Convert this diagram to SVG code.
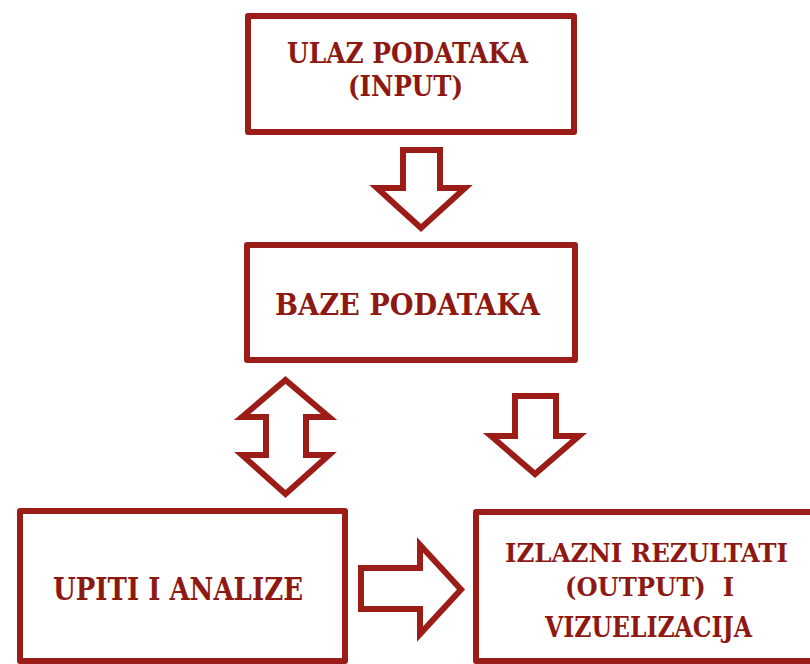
<svg xmlns="http://www.w3.org/2000/svg" width="810" height="664" viewBox="0 0 810 664">
<style>
.box{fill:#ffffff;stroke:#9c1c17;stroke-width:6;stroke-linejoin:round}
.arr{fill:#ffffff;stroke:#9c1c17;stroke-width:6;stroke-linejoin:miter}
.lbl{font-family:"DejaVu Serif Condensed","DejaVu Serif",serif;font-weight:bold;fill:#8e1912;text-anchor:middle;white-space:pre}
</style>
<rect width="810" height="664" fill="#ffffff"/>
<g id="connectors">
<path class="arr" d="M403,150 H440 V188 H465 L421,228 L377,188 H403 Z"/>
<path class="arr" d="M285.5,380 L329,417 H306 V455 H329 L285.5,494 L242,455 H266 V417 H242 Z"/>
<path class="arr" d="M515,396 H556 V436 H579 L535,474 L491,436 H515 Z"/>
<path class="arr" d="M361,568 H420 V545 L461,589.5 L420,634 V609 H361 Z"/>
</g>
<g id="node-ulaz">
<rect class="box" x="248" y="16" width="326" height="116"/>
<text class="lbl" x="407.5" y="63" font-size="27" textLength="241" lengthAdjust="spacingAndGlyphs">ULAZ PODATAKA</text>
<text class="lbl" x="405.5" y="96" font-size="27" textLength="115" lengthAdjust="spacingAndGlyphs">(INPUT)</text>
</g>
<g id="node-baze">
<rect class="box" x="247" y="245" width="328" height="115"/>
<text class="lbl" x="407.5" y="315" font-size="30" textLength="265" lengthAdjust="spacingAndGlyphs">BAZE PODATAKA</text>
</g>
<g id="node-upiti">
<rect class="box" x="20" y="511" width="325" height="150"/>
<text class="lbl" x="178" y="600" font-size="31" textLength="250" lengthAdjust="spacingAndGlyphs">UPITI I ANALIZE</text>
</g>
<g id="node-izlazni">
<rect class="box" x="476" y="512" width="340" height="149"/>
<text class="lbl" x="646.5" y="562" font-size="26" textLength="283" lengthAdjust="spacingAndGlyphs">IZLAZNI REZULTATI</text>
<text class="lbl" x="649.5" y="596" font-size="26" textLength="169" lengthAdjust="spacingAndGlyphs">(OUTPUT)  I</text>
<text class="lbl" x="648.5" y="637" font-size="27" textLength="207" lengthAdjust="spacingAndGlyphs">VIZUELIZACIJA</text>
</g>
</svg>
